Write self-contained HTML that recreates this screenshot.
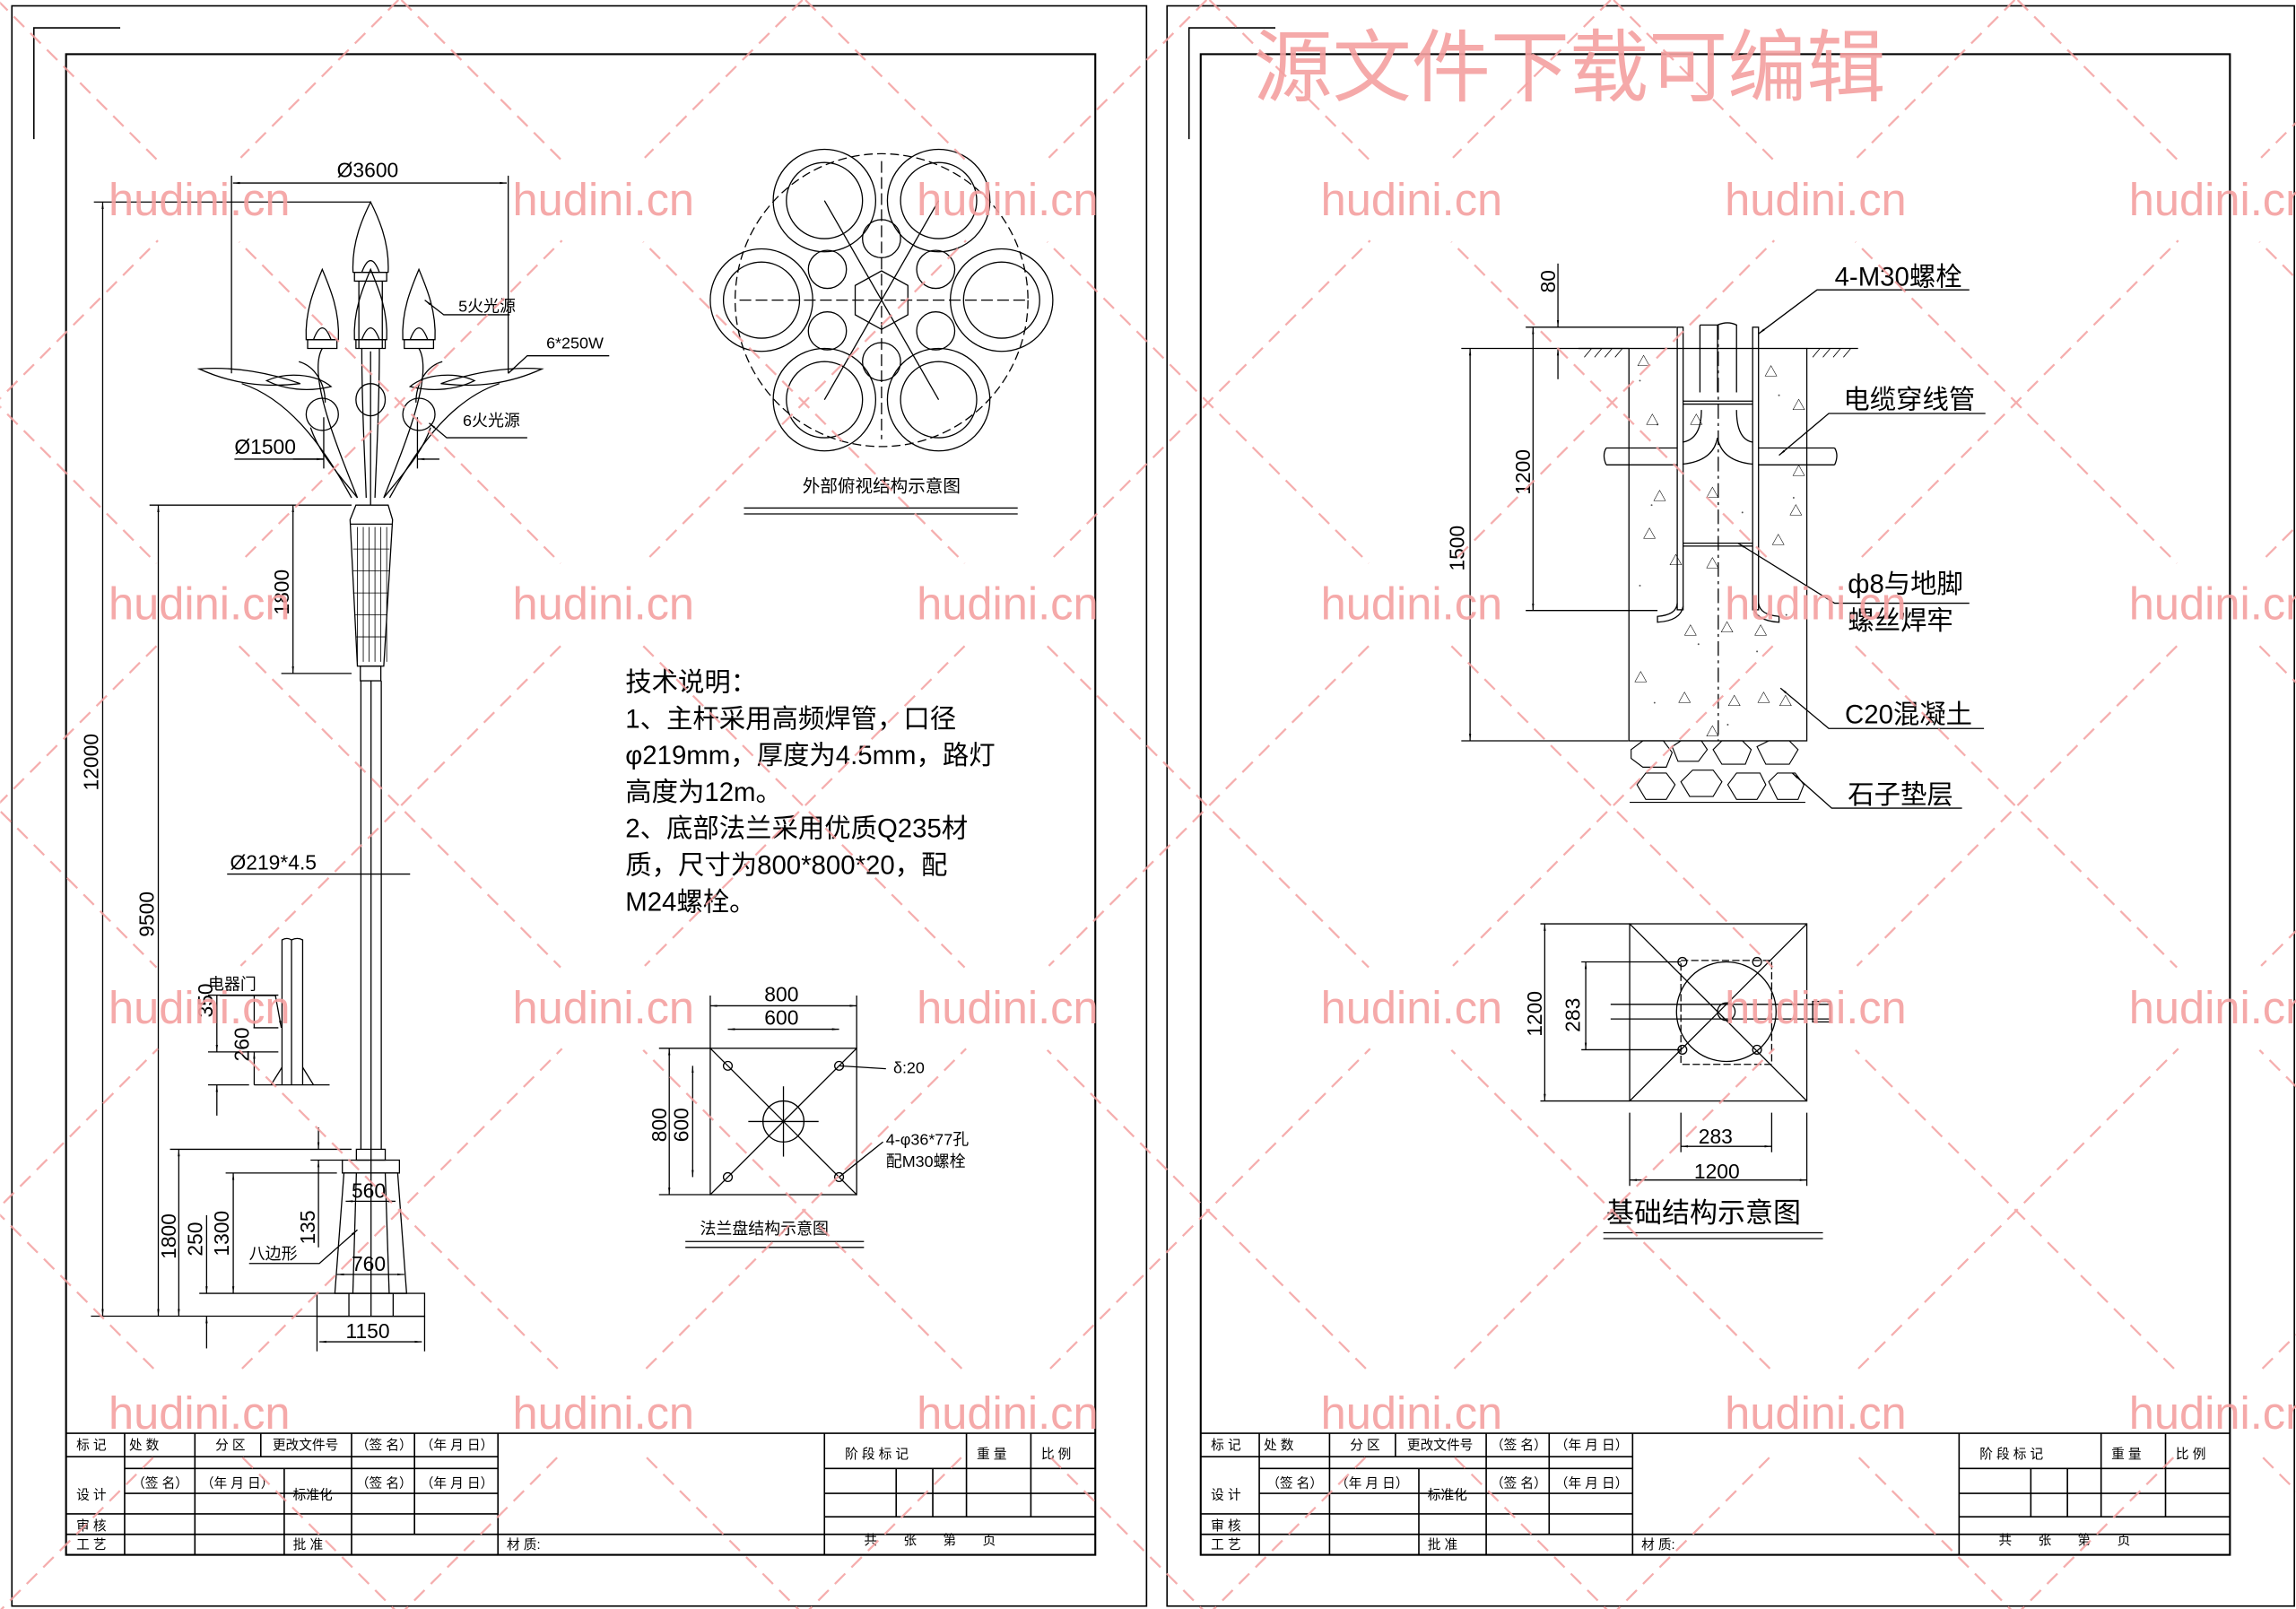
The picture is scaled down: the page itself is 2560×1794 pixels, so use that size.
<!DOCTYPE html>
<html><head><meta charset="utf-8"><style>
html,body{margin:0;padding:0;background:#fff;}
svg{display:block;}
text{font-family:"Liberation Sans","Noto Sans CJK SC",sans-serif;fill:#000;}
</style></head><body>
<svg width="2560" height="1794" viewBox="0 0 1568 1099" xmlns="http://www.w3.org/2000/svg">
<defs>
<marker id="a" viewBox="0 0 10 10" refX="10" refY="5" markerWidth="6" markerHeight="6" orient="auto-start-reverse"><path d="M0 3.5 L10 5 L0 6.5Z" fill="#000"/></marker>
<mask id="wm"><rect x="0" y="0" width="1568" height="1099" fill="#fff"/>
<g fill="#000">
<circle cx="136" cy="136" r="40"/><circle cx="412" cy="136" r="40"/><circle cx="688" cy="136" r="40"/><circle cx="964" cy="136" r="40"/><circle cx="1240" cy="136" r="40"/><circle cx="1516" cy="136" r="40"/>
<circle cx="136" cy="412" r="40"/><circle cx="412" cy="412" r="40"/><circle cx="688" cy="412" r="40"/><circle cx="964" cy="412" r="40"/><circle cx="1240" cy="412" r="40"/><circle cx="1516" cy="412" r="40"/>
<circle cx="136" cy="688" r="40"/><circle cx="412" cy="688" r="40"/><circle cx="688" cy="688" r="40"/><circle cx="964" cy="688" r="40"/><circle cx="1240" cy="688" r="40"/><circle cx="1516" cy="688" r="40"/>
<circle cx="136" cy="964" r="40"/><circle cx="412" cy="964" r="40"/><circle cx="688" cy="964" r="40"/><circle cx="964" cy="964" r="40"/><circle cx="1240" cy="964" r="40"/><circle cx="1516" cy="964" r="40"/>
</g></mask>
</defs>
<rect width="1568" height="1099" fill="#fff"/>
<g stroke="#000" fill="none" stroke-width="1">
<rect x="8" y="4" width="775" height="1093"/>
<rect x="45" y="37" width="703" height="1025" stroke-width="1.3"/>
<path d="M23 95 V19 H82"/>
<rect x="797" y="4" width="770" height="1093"/>
<rect x="820" y="37" width="703" height="1025" stroke-width="1.3"/>
<path d="M812 95 V19 H871"/>
<g id="tb">
<line x1="45" y1="979" x2="748" y2="979"/>
<line x1="45" y1="995" x2="340" y2="995"/>
<line x1="45" y1="1034" x2="340" y2="1034"/>
<line x1="45" y1="1048" x2="748" y2="1048"/>
<line x1="85" y1="979" x2="85" y2="1062"/>
<line x1="133" y1="979" x2="133" y2="1062"/>
<line x1="178" y1="979" x2="178" y2="995"/>
<line x1="194" y1="1003" x2="194" y2="1062"/>
<line x1="240" y1="979" x2="240" y2="1062"/>
<line x1="283" y1="979" x2="283" y2="1048"/>
<line x1="340" y1="979" x2="340" y2="1062"/>
<line x1="85" y1="1003" x2="340" y2="1003"/>
<line x1="85" y1="1020" x2="340" y2="1020"/>
<line x1="563" y1="979" x2="563" y2="1062"/>
<line x1="563" y1="1003" x2="748" y2="1003"/>
<line x1="563" y1="1020" x2="748" y2="1020"/>
<line x1="563" y1="1036" x2="748" y2="1036"/>
<line x1="612" y1="1003" x2="612" y2="1036"/>
<line x1="637" y1="1003" x2="637" y2="1036"/>
<line x1="660" y1="979" x2="660" y2="1036"/>
<line x1="704" y1="979" x2="704" y2="1036"/>
</g>
<use href="#tb" x="775"/>
</g>
<g id="tbt" font-size="9">
<text x="52" y="990">标 记</text><text x="88" y="990">处 数</text><text x="147" y="990">分 区</text><text x="186" y="990">更改文件号</text><text x="243" y="990">（签 名）</text><text x="287" y="990">（年 月 日）</text>
<text x="52" y="1024">设 计</text><text x="90" y="1016">（签 名）</text><text x="137" y="1016">（年 月 日）</text><text x="200" y="1024">标准化</text><text x="243" y="1016">（签 名）</text><text x="287" y="1016">（年 月 日）</text>
<text x="52" y="1045">审 核</text><text x="52" y="1058">工 艺</text><text x="200" y="1058">批 准</text><text x="346" y="1058">材 质:</text>
<text x="577" y="996">阶 段 标 记</text><text x="667" y="996">重 量</text><text x="711" y="996">比 例</text>
<text x="590" y="1055">共　　张　　第　　页</text>
</g>
<use href="#tbt" x="775"/>

<!-- LEFT: lamp elevation -->
<g stroke="#000" fill="none" stroke-width="0.8">
<line x1="159" y1="125" x2="346" y2="125" marker-start="url(#a)" marker-end="url(#a)"/>
<line x1="158" y1="120" x2="158" y2="255"/><line x1="347" y1="120" x2="347" y2="255"/>
<line x1="64" y1="138" x2="253" y2="138"/><line x1="70" y1="138" x2="70" y2="899" marker-start="url(#a)" marker-end="url(#a)"/>
<line x1="62" y1="899" x2="290" y2="899"/>
<line x1="108" y1="345" x2="108" y2="899" marker-start="url(#a)" marker-end="url(#a)"/><line x1="102" y1="345" x2="240" y2="345"/>
<line x1="200" y1="345" x2="200" y2="460" marker-start="url(#a)" marker-end="url(#a)"/><line x1="192" y1="460" x2="240" y2="460"/>
<line x1="160" y1="313.6" x2="221" y2="313.6"/>
<line x1="200" y1="313.6" x2="221" y2="313.6" marker-end="url(#a)"/><line x1="300" y1="313.6" x2="285" y2="313.6" marker-end="url(#a)"/>
<line x1="221" y1="285" x2="221" y2="320"/><line x1="285" y1="285" x2="285" y2="320"/>
<line x1="155" y1="597" x2="280" y2="597"/>
<!-- lamp head: buds -->
<path d="M241 186 C240 165,248 148,253 138 C258 148,266 165,265 186 Z"/>
<path d="M242 186 H264 V192 H242 Z"/>
<path d="M247 186 Q253 170 259 186"/>
<path d="M209 232 C208 212,215 196,220 184 C225 196,232 212,231 232 Z"/>
<path d="M242 232 C241 212,248 196,253 184 C258 196,265 212,264 232 Z"/>
<path d="M275 232 C274 212,281 196,286 184 C291 196,298 212,297 232 Z"/>
<path d="M214 232 Q220 216 226 232 M247 232 Q253 216 259 232 M280 232 Q286 216 292 232"/>
<path d="M210 232 H230 V238 H210 Z M243 232 H263 V238 H243 Z M276 232 H296 V238 H276 Z"/>
<path d="M245 192 V238 M261 192 V238"/>
<!-- arms -->
<path d="M204 247 C215 250,222 262,222 275 M302 247 C291 250,284 262,284 275"/>
<path d="M220 238 C210 255,228 300,244 340 M286 238 C296 255,278 300,262 340"/>
<path d="M247 238 C247 280,249 310,250 340 M259 238 C259 280,257 310,256 340"/>
<path d="M212 292 C218 310,232 325,244 340 M294 292 C288 310,274 325,262 340"/>
<path d="M165 262 C195 272,218 300,240 340 M341 262 C311 272,288 300,266 340"/>
<!-- dishes -->
<path d="M136 252 C160 250,185 255,205 262 C180 265,158 262,136 252Z"/>
<path d="M370 252 C346 250,321 255,301 262 C326 265,348 262,370 252Z"/>
<path d="M182 260 C195 254,215 255,226 264 C210 268,194 266,182 260Z"/>
<path d="M324 260 C311 254,291 255,280 264 C296 268,312 266,324 260Z"/>
<ellipse cx="220" cy="283" rx="11" ry="11"/><ellipse cx="253" cy="273" rx="10" ry="11"/><ellipse cx="286" cy="283" rx="11" ry="11"/>
<line x1="253" y1="240" x2="253" y2="345"/>
<!-- pole upper decorative -->
<path d="M239 355 L243 345 L265 345 L268 355 L262 455 L244 455 Z"/>
<line x1="239" y1="358" x2="268" y2="358"/>
<g stroke-width="0.5"><path d="M244 360 V452 M248 360 V452 M252 360 V452 M256 360 V452 M260 360 V452 M264 360 V452 M241 375 H266 M241 390 H266 M241 405 H265 M242 420 H264 M243 435 H263"/></g>
<rect x="246" y="455" width="14" height="10"/>
<line x1="246.4" y1="465" x2="246.4" y2="785"/><line x1="260.3" y1="465" x2="260.3" y2="785"/><line x1="253.3" y1="465" x2="253.3" y2="899"/>
<!-- base -->
<rect x="243.3" y="785" width="19.7" height="7.4"/>
<rect x="233.7" y="792.4" width="39" height="8.8"/>
<path d="M234.8 801.2 H271.5 L277.6 883.4 H228.6 Z"/>
<line x1="243.3" y1="801.2" x2="240.9" y2="883.4"/><line x1="263" y1="801.2" x2="265.7" y2="883.4"/>
<rect x="216.4" y="883.4" width="73.5" height="15.7"/>
<line x1="238.2" y1="883.4" x2="238.2" y2="899"/><line x1="268.4" y1="883.4" x2="268.4" y2="899"/>
<!-- base dims -->
<line x1="116" y1="785" x2="240" y2="785"/><line x1="122" y1="785" x2="122" y2="899" marker-start="url(#a)" marker-end="url(#a)"/>
<line x1="154" y1="801.2" x2="230" y2="801.2"/><line x1="159.2" y1="801.2" x2="159.2" y2="883.4" marker-start="url(#a)" marker-end="url(#a)"/>
<line x1="136" y1="883.4" x2="216" y2="883.4"/>
<line x1="141" y1="830" x2="141" y2="883.4" marker-end="url(#a)"/><line x1="141" y1="899" x2="141" y2="921" marker-start="url(#a)"/>
<line x1="212" y1="792.4" x2="234" y2="792.4"/>
<line x1="217.4" y1="770" x2="217.4" y2="785" marker-end="url(#a)"/><line x1="217.4" y1="792.4" x2="217.4" y2="852" marker-start="url(#a)"/>
<line x1="236" y1="820.5" x2="270" y2="820.5" marker-start="url(#a)" marker-end="url(#a)"/>
<line x1="230" y1="870.5" x2="276" y2="870.5" marker-start="url(#a)" marker-end="url(#a)"/>
<line x1="218" y1="916.5" x2="288" y2="916.5" marker-start="url(#a)" marker-end="url(#a)"/><line x1="216.4" y1="899" x2="216.4" y2="923"/><line x1="289.9" y1="899" x2="289.9" y2="923"/>
<path d="M170 863 H218 L244 840" marker-end="url(#a)"/>
<!-- door detail -->
<path d="M192.5 741 V642 Q196 640 199 642 V741 M199 642 Q203 640 206.6 642 V741"/>
<line x1="173.5" y1="741" x2="225" y2="741"/>
<path d="M185 741 L192.5 729 M206.6 729 L214 741"/>
<line x1="142" y1="679.7" x2="190" y2="679.7"/><line x1="142" y1="718.5" x2="190" y2="718.5"/><line x1="142" y1="741" x2="170" y2="741"/>
<line x1="148" y1="679.7" x2="148" y2="718.5" marker-end="url(#a)"/><line x1="148" y1="741" x2="148" y2="762" marker-start="url(#a)"/>
<line x1="173.5" y1="680" x2="173.5" y2="702" marker-end="url(#a)"/><line x1="173.5" y1="718.5" x2="173.5" y2="741" marker-start="url(#a)"/>
<line x1="173" y1="702" x2="190" y2="702"/>
<path d="M150 680 H188 L192 702" marker-end="url(#a)"/>
<!-- leaders -->
<path d="M290 205 L303 215 H348" marker-start="url(#a)"/>
<path d="M347 255 L360 243 H416" marker-start="url(#a)"/>
<path d="M293 289 L305 299 H360" marker-start="url(#a)"/>
</g>
<g font-size="14">
<text x="230" y="121">Ø3600</text>
<text x="160" y="310">Ø1500</text>
<text x="157" y="594">Ø219*4.5</text>
<text x="240" y="818">560</text><text x="240" y="868">760</text><text x="236" y="914">1150</text>
<text transform="translate(67,540) rotate(-90)">12000</text>
<text transform="translate(105,640) rotate(-90)">9500</text>
<text transform="translate(197,420) rotate(-90)">1800</text>
<text transform="translate(120,860) rotate(-90)">1800</text>
<text transform="translate(138,858) rotate(-90)">250</text>
<text transform="translate(156,858) rotate(-90)">1300</text>
<text transform="translate(215,850) rotate(-90)">135</text>
<text transform="translate(145,695) rotate(-90)">350</text>
<text transform="translate(170,725) rotate(-90)">260</text>
</g>
<g font-size="11"><text x="313" y="213">5火光源</text><text x="373" y="238">6*250W</text><text x="316" y="291">6火光源</text><text x="142" y="676">电器门</text><text x="170" y="860">八边形</text></g>

<!-- top view -->
<g stroke="#000" fill="none" stroke-width="0.8">
<circle cx="602" cy="205" r="100" stroke-dasharray="6 3"/>
<circle cx="563" cy="137" r="35"/><circle cx="563" cy="137" r="26"/>
<circle cx="641" cy="137" r="35"/><circle cx="641" cy="137" r="26"/>
<circle cx="520" cy="205" r="35"/><circle cx="520" cy="205" r="26"/>
<circle cx="684" cy="205" r="35"/><circle cx="684" cy="205" r="26"/>
<circle cx="563" cy="273" r="35"/><circle cx="563" cy="273" r="26"/>
<circle cx="641" cy="273" r="35"/><circle cx="641" cy="273" r="26"/>
<circle cx="602" cy="163" r="13"/><circle cx="602" cy="247" r="13"/><circle cx="565" cy="184" r="13"/><circle cx="639" cy="184" r="13"/><circle cx="565" cy="226" r="13"/><circle cx="639" cy="226" r="13"/>
<path d="M602 185 L620 195 L620 215 L602 225 L584 215 L584 195 Z"/>
<line x1="505" y1="205" x2="700" y2="205" stroke-dasharray="8 3"/><line x1="602" y1="110" x2="602" y2="300" stroke-dasharray="8 3"/>
<line x1="563" y1="137" x2="641" y2="273"/><line x1="641" y1="137" x2="563" y2="273"/>
<line x1="508" y1="347" x2="695" y2="347"/><line x1="508" y1="351" x2="695" y2="351"/>
</g>
<text x="548" y="336" font-size="12">外部俯视结构示意图</text>

<g font-size="18"><text x="427" y="472">技术说明：</text>
<text x="427" y="497">1、主杆采用高频焊管，口径</text>
<text x="427" y="522">φ219mm，厚度为4.5mm，路灯</text>
<text x="427" y="547">高度为12m。</text>
<text x="427" y="572">2、底部法兰采用优质Q235材</text>
<text x="427" y="597">质，尺寸为800*800*20，配</text>
<text x="427" y="622">M24螺栓。</text></g>

<!-- flange -->
<g stroke="#000" fill="none" stroke-width="0.8">
<rect x="485" y="716" width="100" height="100"/>
<line x1="485" y1="716" x2="585" y2="816"/><line x1="585" y1="716" x2="485" y2="816"/>
<circle cx="535" cy="766" r="14"/>
<line x1="535" y1="742" x2="535" y2="790"/><line x1="511" y1="766" x2="559" y2="766"/>
<circle cx="497" cy="728" r="3"/><circle cx="573" cy="728" r="3"/><circle cx="497" cy="804" r="3"/><circle cx="573" cy="804" r="3"/>
<line x1="485" y1="687" x2="585" y2="687" marker-start="url(#a)" marker-end="url(#a)"/><line x1="497" y1="703" x2="573" y2="703" marker-start="url(#a)" marker-end="url(#a)"/>
<line x1="485" y1="680" x2="485" y2="716"/><line x1="585" y1="680" x2="585" y2="716"/>
<line x1="450" y1="716" x2="485" y2="716"/><line x1="450" y1="816" x2="485" y2="816"/>
<line x1="457" y1="716" x2="457" y2="816" marker-start="url(#a)" marker-end="url(#a)"/><line x1="473" y1="728" x2="473" y2="804" marker-start="url(#a)" marker-end="url(#a)"/>
<line x1="573" y1="728" x2="605" y2="730"/><line x1="573" y1="804" x2="603" y2="780"/>
<line x1="468" y1="848" x2="590" y2="848"/><line x1="468" y1="852" x2="590" y2="852"/>
</g>
<g font-size="14"><text x="522" y="684">800</text><text x="522" y="700">600</text>
<text transform="translate(455,780) rotate(-90)">800</text><text transform="translate(470,780) rotate(-90)">600</text></g>
<g font-size="11"><text x="610" y="733">δ:20</text><text x="605" y="782">4-φ36*77孔</text><text x="605" y="797">配M30螺栓</text><text x="478" y="843">法兰盘结构示意图</text></g>

<!-- RIGHT: foundation -->
<g stroke="#000" fill="none" stroke-width="0.8">
<line x1="1078" y1="238" x2="1112.5" y2="238"/><line x1="1234" y1="238" x2="1269" y2="238"/>
<g stroke-width="0.5"><path d="M1082 244 l5 -6 M1089 244 l5 -6 M1096 244 l5 -6 M1103 244 l5 -6 M1238 244 l5 -6 M1245 244 l5 -6 M1252 244 l5 -6 M1259 244 l5 -6"/></g>
<rect x="1112.5" y="238" width="121.5" height="268"/>
<rect x="1145.5" y="223.5" width="4" height="193"/><rect x="1197" y="223.5" width="4" height="193"/>
<path d="M1145.5 412 Q1145 420 1132 421 V425 Q1148 424 1149.5 414 M1201 412 Q1202 420 1215 421 V425 Q1199 424 1197 414"/>
<path d="M1161 222 H1173 V268 M1161 222 V268 M1173 222 Q1180 219 1186 222 V268"/>
<line x1="1173.5" y1="222" x2="1173.5" y2="506" stroke-dasharray="10 3 2 3"/>
<line x1="1149.5" y1="274" x2="1197" y2="274"/><line x1="1149.5" y1="276" x2="1197" y2="276"/>
<line x1="1149.5" y1="371" x2="1197" y2="371"/><line x1="1149.5" y1="373" x2="1197" y2="373"/>
<path d="M1162 280 Q1162 300 1149 302 M1186 280 Q1186 300 1197 302 M1149 317 Q1170 315 1173 299 Q1176 315 1197 317"/>
<path d="M1097 306 H1145.5 M1097 317.5 H1145.5 M1201 306 H1253 M1201 317.5 H1253 M1097 306 q-3 5 0 11.5 M1253 306 q3 5 0 11.5"/>
<g stroke-width="0.7"><path d="M1114 512 l8 -6 h14 l6 8 -4 10 h-16 l-8 -6Z M1142 510 l6 -4 h14 l4 6 -6 8 h-14Z M1170 512 l6 -6 h14 l6 6 -4 10 h-16Z M1200 510 l8 -4 h14 l6 6 -6 10 h-16Z M1118 536 l6 -8 h14 l6 8 -6 10 h-14Z M1148 534 l8 -8 h14 l6 8 -6 10 h-16Z M1180 536 l6 -8 h16 l4 8 -6 10 h-14Z M1208 534 l6 -6 h12 l6 8 -4 10 h-14Z M1113 548 h120"/></g>
<line x1="998" y1="238" x2="1112" y2="238"/><line x1="998" y1="506" x2="1112" y2="506"/>
<line x1="1004" y1="238" x2="1004" y2="506" marker-start="url(#a)" marker-end="url(#a)"/>
<line x1="1042" y1="223.5" x2="1145" y2="223.5"/><line x1="1042" y1="417" x2="1132" y2="417"/><line x1="1047" y1="223.5" x2="1047" y2="417" marker-start="url(#a)" marker-end="url(#a)"/>
<line x1="1064" y1="180" x2="1064" y2="223.5" marker-end="url(#a)"/><line x1="1064" y1="238" x2="1064" y2="259" marker-start="url(#a)"/>
<path d="M1345 198 H1241 L1201 228" marker-end="url(#a)"/>
<path d="M1356 282.4 H1249 L1215 311" marker-end="url(#a)"/>
<path d="M1345 412 H1253 L1187 371" marker-end="url(#a)"/>
<path d="M1355 497.6 H1249 L1216 470" marker-end="url(#a)"/>
<path d="M1340 552 H1251 L1224 528" marker-end="url(#a)"/>
<!-- plan -->
<rect x="1113" y="631" width="121" height="121"/>
<line x1="1113" y1="631" x2="1234" y2="752"/><line x1="1234" y1="631" x2="1113" y2="752"/>
<rect x="1148" y="656" width="62" height="71" stroke-dasharray="5 2"/>
<circle cx="1179" cy="691" r="34"/><circle cx="1179" cy="691" r="6"/>
<circle cx="1149" cy="657" r="3"/><circle cx="1200" cy="657" r="3"/><circle cx="1149" cy="717" r="3"/><circle cx="1200" cy="717" r="3"/>
<line x1="1100" y1="686" x2="1250" y2="686"/><line x1="1100" y1="696" x2="1250" y2="696"/>
<rect x="1238" y="684" width="12" height="14"/>
<line x1="1052" y1="631" x2="1113" y2="631"/><line x1="1052" y1="752" x2="1113" y2="752"/><line x1="1055" y1="631" x2="1055" y2="752" marker-start="url(#a)" marker-end="url(#a)"/>
<line x1="1080" y1="657" x2="1148" y2="657"/><line x1="1080" y1="717" x2="1148" y2="717"/><line x1="1083" y1="657" x2="1083" y2="717" marker-start="url(#a)" marker-end="url(#a)"/>
<line x1="1148" y1="783" x2="1210" y2="783" marker-start="url(#a)" marker-end="url(#a)"/><line x1="1148" y1="760" x2="1148" y2="787"/><line x1="1210" y1="760" x2="1210" y2="787"/>
<line x1="1113" y1="806" x2="1234" y2="806" marker-start="url(#a)" marker-end="url(#a)"/><line x1="1113" y1="760" x2="1113" y2="810"/><line x1="1234" y1="760" x2="1234" y2="810"/>
<line x1="1095" y1="842" x2="1245" y2="842"/><line x1="1095" y1="846" x2="1245" y2="846"/>
</g>
<g fill="#555" stroke="none">
<circle cx="1120" cy="260" r="0.6"/><circle cx="1132" cy="290" r="0.6"/><circle cx="1215" cy="270" r="0.6"/><circle cx="1225" cy="340" r="0.6"/><circle cx="1128" cy="345" r="0.6"/><circle cx="1190" cy="350" r="0.6"/><circle cx="1120" cy="400" r="0.6"/><circle cx="1160" cy="440" r="0.6"/><circle cx="1200" cy="445" r="0.6"/><circle cx="1130" cy="480" r="0.6"/><circle cx="1220" cy="420" r="0.6"/><circle cx="1180" cy="495" r="0.6"/>
</g>
<g font-size="9" fill="#333">
<text x="1118" y="250">△</text><text x="1205" y="257">△</text><text x="1224" y="280">△</text><text x="1124" y="290">△</text><text x="1154" y="290">△</text><text x="1224" y="325">△</text><text x="1129" y="342">△</text><text x="1165" y="340">△</text><text x="1222" y="352">△</text><text x="1122" y="368">△</text><text x="1210" y="372">△</text><text x="1140" y="386">△</text><text x="1165" y="388">△</text><text x="1175" y="432">△</text><text x="1150" y="434">△</text><text x="1198" y="434">△</text><text x="1116" y="466">△</text><text x="1146" y="480">△</text><text x="1180" y="482">△</text><text x="1200" y="480">△</text><text x="1215" y="482">△</text><text x="1165" y="503">△</text>
</g>
<g font-size="14">
<text transform="translate(1062,200) rotate(-90)">80</text>
<text transform="translate(1045,338) rotate(-90)">1200</text>
<text transform="translate(1000,390) rotate(-90)">1500</text>
<text transform="translate(1053,708) rotate(-90)">1200</text>
<text transform="translate(1079,705) rotate(-90)">283</text>
<text x="1160" y="781">283</text><text x="1157" y="805">1200</text>
</g>
<g font-size="18">
<text x="1253" y="195">4-M30螺栓</text>
<text x="1259" y="279">电缆穿线管</text>
<text x="1262" y="405">ф8与地脚</text><text x="1262" y="430">螺丝焊牢</text>
<text x="1260" y="494">C20混凝土</text>
<text x="1262" y="549">石子垫层</text>
<text x="1097" y="835" font-size="19">基础结构示意图</text>
</g>

<!-- watermark -->
<g stroke="#f4a0a0" stroke-width="1.4" stroke-dasharray="10 6" opacity="0.85" mask="url(#wm)">
<line x1="-1106" y1="0" x2="-6" y2="1100"/><line x1="-830" y1="0" x2="270" y2="1100"/><line x1="-554" y1="0" x2="546" y2="1100"/><line x1="-278" y1="0" x2="822" y2="1100"/><line x1="-2" y1="0" x2="1098" y2="1100"/><line x1="274" y1="0" x2="1374" y2="1100"/><line x1="550" y1="0" x2="1650" y2="1100"/><line x1="826" y1="0" x2="1926" y2="1100"/><line x1="1102" y1="0" x2="2202" y2="1100"/><line x1="1378" y1="0" x2="2478" y2="1100"/>
<line x1="-4" y1="0" x2="-1104" y2="1100"/><line x1="272" y1="0" x2="-828" y2="1100"/><line x1="548" y1="0" x2="-552" y2="1100"/><line x1="824" y1="0" x2="-276" y2="1100"/><line x1="1100" y1="0" x2="0" y2="1100"/><line x1="1376" y1="0" x2="276" y2="1100"/><line x1="1652" y1="0" x2="552" y2="1100"/><line x1="1928" y1="0" x2="828" y2="1100"/><line x1="2204" y1="0" x2="1104" y2="1100"/><line x1="2480" y1="0" x2="1380" y2="1100"/>
</g>
<g font-size="31" opacity="0.9">
<text x="74" y="147" style="fill:#f4a0a0">hudini.cn</text><text x="350" y="147" style="fill:#f4a0a0">hudini.cn</text><text x="626" y="147" style="fill:#f4a0a0">hudini.cn</text><text x="902" y="147" style="fill:#f4a0a0">hudini.cn</text><text x="1178" y="147" style="fill:#f4a0a0">hudini.cn</text><text x="1454" y="147" style="fill:#f4a0a0">hudini.cn</text>
<text x="74" y="423" style="fill:#f4a0a0">hudini.cn</text><text x="350" y="423" style="fill:#f4a0a0">hudini.cn</text><text x="626" y="423" style="fill:#f4a0a0">hudini.cn</text><text x="902" y="423" style="fill:#f4a0a0">hudini.cn</text><text x="1178" y="423" style="fill:#f4a0a0">hudini.cn</text><text x="1454" y="423" style="fill:#f4a0a0">hudini.cn</text>
<text x="74" y="699" style="fill:#f4a0a0">hudini.cn</text><text x="350" y="699" style="fill:#f4a0a0">hudini.cn</text><text x="626" y="699" style="fill:#f4a0a0">hudini.cn</text><text x="902" y="699" style="fill:#f4a0a0">hudini.cn</text><text x="1178" y="699" style="fill:#f4a0a0">hudini.cn</text><text x="1454" y="699" style="fill:#f4a0a0">hudini.cn</text>
<text x="74" y="976" style="fill:#f4a0a0">hudini.cn</text><text x="350" y="976" style="fill:#f4a0a0">hudini.cn</text><text x="626" y="976" style="fill:#f4a0a0">hudini.cn</text><text x="902" y="976" style="fill:#f4a0a0">hudini.cn</text><text x="1178" y="976" style="fill:#f4a0a0">hudini.cn</text><text x="1454" y="976" style="fill:#f4a0a0">hudini.cn</text>
</g>
<text x="856" y="65" font-size="54" style="fill:#f4a0a0" opacity="0.9">源文件下载可编辑</text>
</svg>
</body></html>
